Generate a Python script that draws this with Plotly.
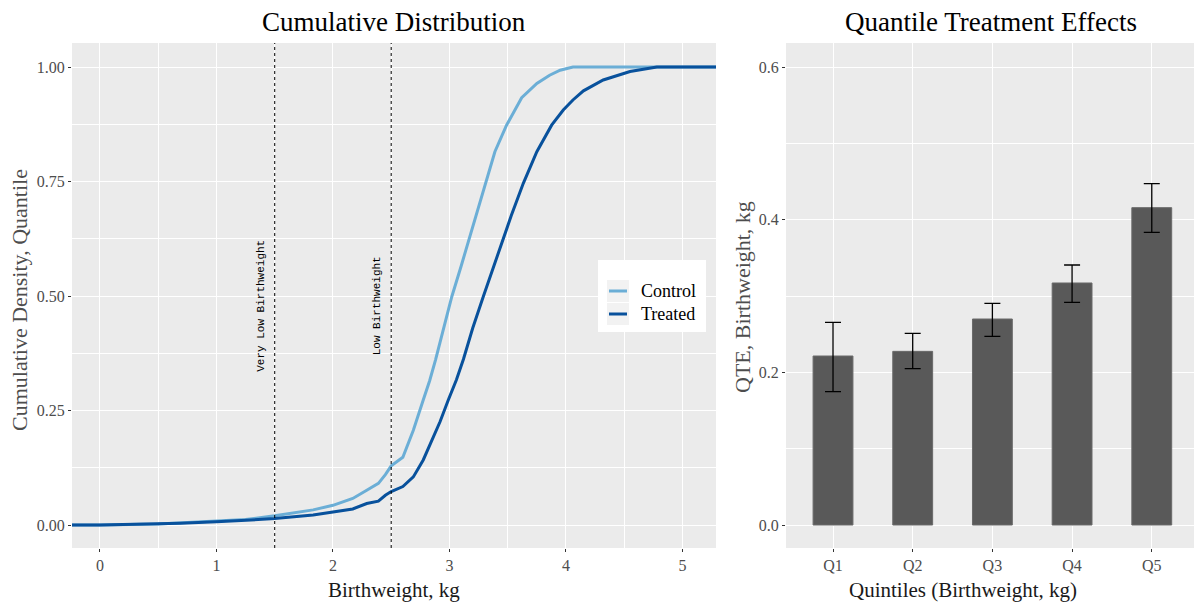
import plotly.graph_objects as go

# ---------------- data ----------------
ctrl_x = [-0.25, 0.0, 0.5, 0.7, 1.0, 1.25, 1.5, 1.83, 2.0, 2.17, 2.29, 2.39, 2.45, 2.50, 2.60,
          2.69, 2.775, 2.83, 2.88, 2.95, 3.02, 3.10, 3.17, 3.24, 3.31, 3.39, 3.49,
          3.62, 3.75, 3.86, 3.95, 4.06, 5.3]
ctrl_y = [0.0, 0.0, 0.002, 0.005, 0.008, 0.012, 0.020, 0.033, 0.043, 0.058, 0.076, 0.091, 0.110,
          0.129, 0.148, 0.207, 0.273, 0.315, 0.360, 0.430, 0.4985, 0.565, 0.625, 0.690,
          0.746, 0.815, 0.873, 0.933, 0.964, 0.982, 0.993, 1.0, 1.0]

treat_x = [-0.25, 0.0, 0.69, 1.0, 1.43, 1.5, 1.83, 2.17, 2.29, 2.39, 2.45, 2.50, 2.60, 2.69,
           2.775, 2.83, 2.92, 2.99, 3.06, 3.12, 3.20, 3.29, 3.36, 3.433, 3.53, 3.634,
           3.75, 3.877, 3.977, 4.06, 4.15, 4.32, 4.55, 4.78, 5.3]
treat_y = [0.0, 0.0, 0.004, 0.007, 0.013, 0.014, 0.022, 0.035, 0.047, 0.052, 0.065, 0.073, 0.084,
           0.105, 0.142, 0.175, 0.226, 0.273, 0.317, 0.362, 0.430, 0.4985, 0.550, 0.600,
           0.675, 0.746, 0.815, 0.873, 0.906, 0.928, 0.948, 0.9716, 0.990, 1.0, 1.0]

cutoffs = [1.5, 2.5]
cutoff_labels = ["Very Low Birthweight", "Low Birthweight"]

quintiles = ["Q1", "Q2", "Q3", "Q4", "Q5"]
qte = [0.2215, 0.2276, 0.2700, 0.3172, 0.4159]
qte_lo = [0.1747, 0.2049, 0.2473, 0.2918, 0.3836]
qte_hi = [0.2657, 0.2512, 0.2905, 0.3408, 0.4473]

left_xticks = [0, 1, 2, 3, 4, 5]
left_yticks = [0.0, 0.25, 0.5, 0.75, 1.0]
left_yticklabels = ["0.00", "0.25", "0.50", "0.75", "1.00"]
right_yticks = [0.0, 0.2, 0.4, 0.6]
right_yticklabels = ["0.0", "0.2", "0.4", "0.6"]

# ---------------- style ----------------
W, H = 1194, 602
SERIF = "Liberation Serif, Times New Roman, serif"
MONO = "Liberation Mono, Courier New, monospace"
PANEL = "#EBEBEB"
C_CTRL = "#6BAED6"
C_TREAT = "#08519C"
TICKCOL = "#4D4D4D"


def px(p):
    return p / W


def py(p):
    return 1 - p / H


fig = go.Figure()

fig.add_trace(go.Scatter(x=ctrl_x, y=ctrl_y, mode="lines", name="Control",
                         line=dict(color=C_CTRL, width=3), showlegend=False,
                         xaxis="x", yaxis="y"))
fig.add_trace(go.Scatter(x=treat_x, y=treat_y, mode="lines", name="Treated",
                         line=dict(color=C_TREAT, width=3), showlegend=False,
                         xaxis="x", yaxis="y"))

fig.add_trace(go.Bar(x=quintiles, y=qte, width=0.5,
                     marker=dict(color="#595959", line=dict(color="#6A6A6A", width=1)),
                     error_y=dict(type="data", symmetric=False,
                                  array=[h - v for h, v in zip(qte_hi, qte)],
                                  arrayminus=[v - l for v, l in zip(qte, qte_lo)],
                                  color="black", thickness=1.3, width=8),
                     showlegend=False, xaxis="x2", yaxis="y2"))

ydom = [py(548), py(43)]
axis_common = dict(showline=False, zeroline=False, ticks="outside", ticklen=3,
                   tickcolor="#333333", tickwidth=1,
                   tickfont=dict(family=SERIF, size=16, color=TICKCOL),
                   gridcolor="white", gridwidth=1.4)

fig.update_layout(
    width=W, height=H,
    margin=dict(l=0, r=0, t=0, b=0),
    paper_bgcolor="white",
    plot_bgcolor=PANEL,
    xaxis=dict(domain=[px(72), px(716)], range=[-0.24, 5.288],
               tickvals=left_xticks, anchor="y",
               minor=dict(showgrid=True, gridcolor="white", gridwidth=0.7, dtick=0.5,
                          tick0=0.5, ticks=""),
               **axis_common),
    yaxis=dict(domain=ydom, range=[-0.0502, 1.0524], anchor="x",
               tickvals=left_yticks, ticktext=left_yticklabels,
               minor=dict(showgrid=True, gridcolor="white", gridwidth=0.7, dtick=0.125,
                          tick0=0.125, ticks=""),
               **axis_common),
    xaxis2=dict(domain=[px(786), 1.0], range=[-0.59, 4.53], anchor="y2",
                type="category", categoryorder="array", categoryarray=quintiles,
                **axis_common),
    yaxis2=dict(domain=ydom, range=[-0.0301, 0.6317], anchor="x2",
                tickvals=right_yticks, ticktext=right_yticklabels,
                minor=dict(showgrid=True, gridcolor="white", gridwidth=0.7, dtick=0.1,
                           tick0=0.1, ticks=""),
                **axis_common),
)

shapes = []
for c in cutoffs:
    shapes.append(dict(type="line", xref="x", yref="paper", x0=c, x1=c,
                       y0=ydom[0], y1=ydom[1],
                       line=dict(color="black", width=1, dash="dot")))

# legend box (ggplot style)
shapes.append(dict(type="rect", xref="paper", yref="paper",
                   x0=px(598), x1=px(706), y0=py(332), y1=py(260),
                   fillcolor="white", line=dict(width=0)))
for (top, bot, col) in [(280, 302, C_CTRL), (303, 325, C_TREAT)]:
    shapes.append(dict(type="rect", xref="paper", yref="paper",
                       x0=px(607), x1=px(629), y0=py(bot), y1=py(top),
                       fillcolor="#F2F2F2", line=dict(width=0)))
    mid = (top + bot) / 2
    shapes.append(dict(type="line", xref="paper", yref="paper",
                       x0=px(609), x1=px(627), y0=py(mid), y1=py(mid),
                       line=dict(color=col, width=3)))
fig.update_layout(shapes=shapes)

ann = []
for c, lab in zip(cutoffs, cutoff_labels):
    ann.append(dict(text=lab, x=c - 0.12, y=0.478, xref="x", yref="y",
                    textangle=-90, showarrow=False,
                    font=dict(family=MONO, size=11, color="black")))
ann.append(dict(text="Control", x=px(639), y=py(291), xref="paper", yref="paper",
                xanchor="left", yanchor="middle", showarrow=False,
                font=dict(family=SERIF, size=18, color="black")))
ann.append(dict(text="Treated", x=px(639), y=py(314), xref="paper", yref="paper",
                xanchor="left", yanchor="middle", showarrow=False,
                font=dict(family=SERIF, size=18, color="black")))
ann.append(dict(text="Cumulative Distribution", x=px(394), y=py(22), xref="paper",
                yref="paper", showarrow=False, xanchor="center", yanchor="middle",
                font=dict(family=SERIF, size=27, color="black")))
ann.append(dict(text="Quantile Treatment Effects", x=px(991), y=py(22), xref="paper",
                yref="paper", showarrow=False, xanchor="center", yanchor="middle",
                font=dict(family=SERIF, size=27, color="black")))
ann.append(dict(text="Birthweight, kg", x=px(394), y=py(590), xref="paper", yref="paper",
                showarrow=False, xanchor="center", yanchor="middle",
                font=dict(family=SERIF, size=21, color="#1A1A1A")))
ann.append(dict(text="Quintiles (Birthweight, kg)", x=px(963), y=py(590), xref="paper",
                yref="paper", showarrow=False, xanchor="center", yanchor="middle",
                font=dict(family=SERIF, size=21, color="#1A1A1A")))
ann.append(dict(text="Cumulative Density, Quantile", x=px(20), y=py(300), xref="paper",
                yref="paper", showarrow=False, textangle=-90, xanchor="center",
                yanchor="middle", font=dict(family=SERIF, size=22, color="#4D4D4D")))
ann.append(dict(text="QTE, Birthweight, kg", x=px(742), y=py(297), xref="paper",
                yref="paper", showarrow=False, textangle=-90, xanchor="center",
                yanchor="middle", font=dict(family=SERIF, size=22, color="#4D4D4D")))
fig.update_layout(annotations=ann)

fig.write_html("out.html")
